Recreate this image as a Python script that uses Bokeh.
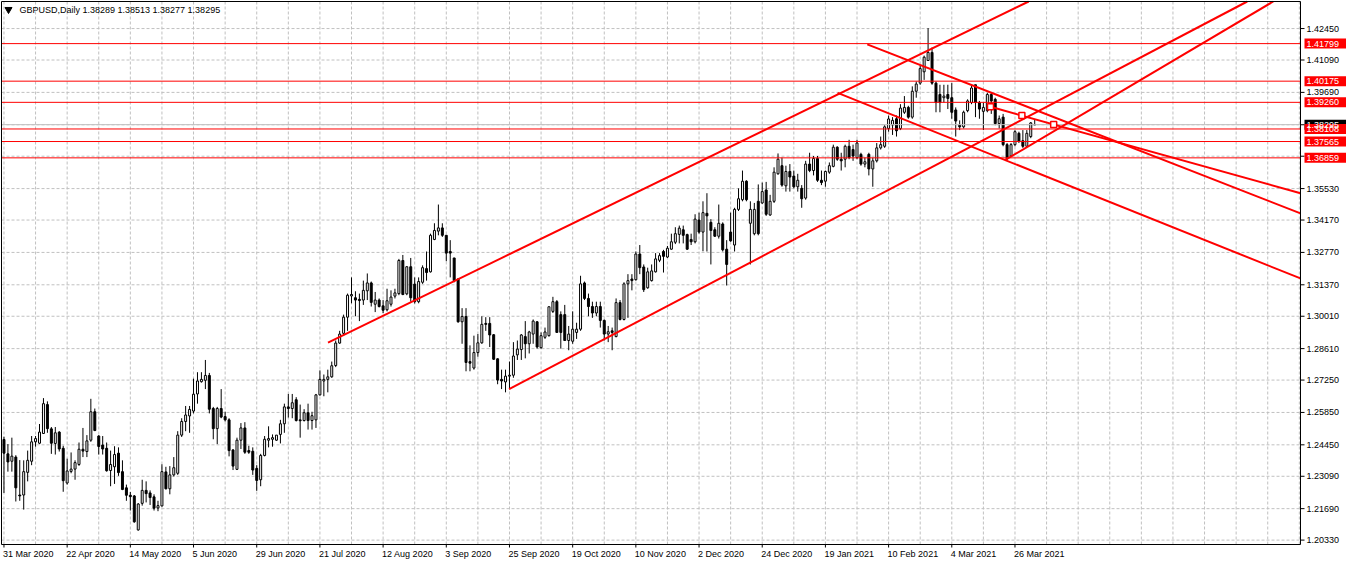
from bokeh.plotting import figure
from bokeh.models import ColumnDataSource
from bokeh.core.properties import value
from bokeh.embed import file_html
from bokeh.resources import INLINE

# ---------------- data (GBPUSD daily) ----------------
opens = [
1.2468, 1.2406, 1.2374, 1.2392, 1.2228, 1.2228, 1.2326, 1.2374, 1.2458, 1.2452,
1.2494, 1.2619, 1.2514, 1.2451, 1.2500, 1.2430, 1.2280, 1.2330, 1.2340, 1.2360,
1.2426, 1.2416, 1.2465, 1.2588, 1.2483, 1.2444, 1.2430, 1.2334, 1.2350, 1.2409,
1.2329, 1.2259, 1.2227, 1.2224, 1.2077, 1.2192, 1.2248, 1.2237, 1.2220, 1.2172,
1.2181, 1.2328, 1.2255, 1.2315, 1.2322, 1.2487, 1.2546, 1.2570, 1.2591, 1.2665,
1.2718, 1.2724, 1.2745, 1.2602, 1.2515, 1.2602, 1.2567, 1.2553, 1.2423, 1.2339,
1.2465, 1.2518, 1.2420, 1.2417, 1.2343, 1.2294, 1.2399, 1.2465, 1.2469, 1.2465,
1.2490, 1.2536, 1.2609, 1.2602, 1.2640, 1.2553, 1.2550, 1.2584, 1.2550, 1.2553,
1.2661, 1.2721, 1.2728, 1.2739, 1.2788, 1.2885, 1.2927, 1.2997, 1.3089, 1.3081,
1.3074, 1.3071, 1.3111, 1.3145, 1.3053, 1.3071, 1.3046, 1.3029, 1.3053, 1.3088,
1.3099, 1.3242, 1.3098, 1.3215, 1.3140, 1.3064, 1.3148, 1.3207, 1.3193, 1.3333,
1.3369, 1.3383, 1.3351, 1.3281, 1.3253, 1.3162, 1.2977, 1.3000, 1.2805, 1.2777,
1.2844, 1.2886, 1.2970, 1.2970, 1.2921, 1.2817, 1.2728, 1.2717, 1.2742, 1.2746,
1.2834, 1.2857, 1.2913, 1.2882, 1.2924, 1.2977, 1.2865, 1.2910, 1.2917, 1.3022,
1.3064, 1.3008, 1.3008, 1.2896, 1.2893, 1.2931, 1.2945, 1.3145, 1.3078, 1.3043,
1.3015, 1.3043, 1.2983, 1.2924, 1.2938, 1.2913, 1.3060, 1.2987, 1.3141, 1.3162,
1.3159, 1.3270, 1.3214, 1.3124, 1.3155, 1.3193, 1.3243, 1.3281, 1.3257, 1.3291,
1.3321, 1.3355, 1.3375, 1.3354, 1.3333, 1.3323, 1.3417, 1.3365, 1.3446, 1.3407,
1.3375, 1.3347, 1.3400, 1.3291, 1.3365, 1.3309, 1.3463, 1.3505, 1.3585, 1.3403,
1.3358, 1.3498, 1.3491, 1.3547, 1.3439, 1.3498, 1.3617, 1.3652, 1.3565, 1.3627,
1.3607, 1.3561, 1.3554, 1.3512, 1.3659, 1.3631, 1.3683, 1.3589, 1.3585, 1.3624,
1.3649, 1.3732, 1.3680, 1.3680, 1.3736, 1.3722, 1.3687, 1.3701, 1.3659, 1.3701,
1.3638, 1.3673, 1.3729, 1.3736, 1.3813, 1.3828, 1.3855, 1.3813, 1.3883, 1.3904,
1.3862, 1.3974, 1.4009, 1.4058, 1.4107, 1.4142, 1.4009, 1.3960, 1.3946, 1.3960,
1.3946, 1.3893, 1.3827, 1.3820, 1.3890, 1.3925, 1.4002, 1.3925, 1.3887, 1.3890,
1.3960, 1.3939, 1.3834, 1.3862, 1.3743, 1.3694, 1.3743, 1.3792, 1.3760, 1.3736,
1.3778, 1.38289]

highs = [
1.2480, 1.2448, 1.2476, 1.2400, 1.2379, 1.2378, 1.2420, 1.2483, 1.2483, 1.2535,
1.2647, 1.2633, 1.2522, 1.2522, 1.2504, 1.2441, 1.2385, 1.2412, 1.2378, 1.2455,
1.2518, 1.2487, 1.2644, 1.2602, 1.2487, 1.2483, 1.2455, 1.2420, 1.2439, 1.2434,
1.2378, 1.2273, 1.2241, 1.2228, 1.2193, 1.2294, 1.2287, 1.2248, 1.2231, 1.2203,
1.2361, 1.2350, 1.2353, 1.2392, 1.2504, 1.2560, 1.2613, 1.2613, 1.2731, 1.2759,
1.2759, 1.2812, 1.2756, 1.2609, 1.2609, 1.2686, 1.2588, 1.2560, 1.2426, 1.2476,
1.2539, 1.2543, 1.2441, 1.2434, 1.2357, 1.2406, 1.2483, 1.2525, 1.2490, 1.2487,
1.2553, 1.2623, 1.2665, 1.2665, 1.2651, 1.2619, 1.2599, 1.2623, 1.2588, 1.2665,
1.2767, 1.2749, 1.2770, 1.2805, 1.2896, 1.2938, 1.3008, 1.3099, 1.3169, 1.3109,
1.3099, 1.3155, 1.3186, 1.3151, 1.3106, 1.3078, 1.3071, 1.3120, 1.3113, 1.3120,
1.3249, 1.3266, 1.3218, 1.3253, 1.3169, 1.3169, 1.3221, 1.3281, 1.3358, 1.3403,
1.3484, 1.3403, 1.3351, 1.3330, 1.3253, 1.3165, 1.3036, 1.3036, 1.2875, 1.2917,
1.2924, 1.3001, 1.2997, 1.2997, 1.2924, 1.2819, 1.2770, 1.2770, 1.2805, 1.2889,
1.2896, 1.2924, 1.2980, 1.2938, 1.2987, 1.2980, 1.2931, 1.2952, 1.3043, 1.3085,
1.3071, 1.3022, 1.3050, 1.2959, 1.3022, 1.2973, 1.3176, 1.3151, 1.3099, 1.3064,
1.3064, 1.3064, 1.2987, 1.2959, 1.2952, 1.3078, 1.3071, 1.3148, 1.3183, 1.3183,
1.3281, 1.3309, 1.3225, 1.3211, 1.3225, 1.3274, 1.3274, 1.3288, 1.3305, 1.3358,
1.3386, 1.3393, 1.3393, 1.3358, 1.3358, 1.3442, 1.3449, 1.3498, 1.3533, 1.3421,
1.3386, 1.3484, 1.3407, 1.3330, 1.3449, 1.3470, 1.3554, 1.3631, 1.3589, 1.3498,
1.3491, 1.3571, 1.3579, 1.3582, 1.3526, 1.3645, 1.3705, 1.3687, 1.3652, 1.3659,
1.3631, 1.3617, 1.3568, 1.3673, 1.3708, 1.3694, 1.3694, 1.3631, 1.3631, 1.3666,
1.3743, 1.3736, 1.3708, 1.3743, 1.3764, 1.3743, 1.3764, 1.3708, 1.3687, 1.3708,
1.3687, 1.3750, 1.3778, 1.3827, 1.3869, 1.3862, 1.3869, 1.3918, 1.3953, 1.3911,
1.3995, 1.4016, 1.4086, 1.4128, 1.4247, 1.4163, 1.4016, 1.4002, 1.4002, 1.4002,
1.4009, 1.3904, 1.3848, 1.3890, 1.3939, 1.4002, 1.4002, 1.3932, 1.3925, 1.3967,
1.3967, 1.3946, 1.3869, 1.3876, 1.3750, 1.3750, 1.3806, 1.3799, 1.3806, 1.3806,
1.3841, 1.38513]

lows = [
1.2237, 1.2329, 1.2329, 1.2200, 1.2203, 1.2165, 1.2287, 1.2357, 1.2437, 1.2448,
1.2493, 1.2497, 1.2406, 1.2403, 1.2416, 1.2242, 1.2273, 1.2322, 1.2294, 1.2354,
1.2392, 1.2392, 1.2458, 1.2504, 1.2403, 1.2403, 1.2329, 1.2266, 1.2276, 1.2311,
1.2249, 1.2203, 1.2161, 1.2108, 1.2074, 1.2182, 1.2196, 1.2185, 1.2161, 1.2158,
1.2178, 1.2252, 1.2231, 1.2308, 1.2315, 1.2479, 1.2504, 1.2497, 1.2581, 1.2623,
1.2714, 1.2686, 1.2581, 1.2469, 1.2448, 1.2560, 1.2546, 1.2395, 1.2336, 1.2336,
1.2427, 1.2406, 1.2406, 1.2315, 1.2246, 1.2266, 1.2395, 1.2434, 1.2437, 1.2462,
1.2451, 1.2497, 1.2563, 1.2560, 1.2546, 1.2476, 1.2546, 1.2511, 1.2511, 1.2518,
1.2658, 1.2655, 1.2672, 1.2735, 1.2781, 1.2882, 1.2917, 1.2938, 1.3057, 1.3001,
1.2980, 1.3050, 1.3071, 1.3043, 1.3019, 1.3039, 1.3015, 1.3022, 1.3043, 1.3078,
1.3092, 1.3092, 1.3092, 1.3064, 1.3056, 1.3057, 1.3141, 1.3155, 1.3190, 1.3330,
1.3351, 1.3344, 1.3239, 1.3169, 1.3148, 1.2973, 1.2882, 1.2763, 1.2763, 1.2770,
1.2826, 1.2882, 1.2938, 1.2868, 1.2812, 1.2707, 1.2686, 1.2672, 1.2686, 1.2735,
1.2812, 1.2812, 1.2819, 1.2840, 1.2882, 1.2861, 1.2861, 1.2903, 1.2913, 1.3015,
1.2931, 1.2861, 1.2896, 1.2854, 1.2882, 1.2903, 1.2938, 1.3071, 1.3001, 1.2994,
1.3001, 1.2952, 1.2896, 1.2889, 1.2854, 1.2910, 1.2983, 1.2983, 1.2994, 1.3113,
1.3155, 1.3183, 1.3106, 1.3120, 1.3151, 1.3190, 1.3235, 1.3190, 1.3253, 1.3288,
1.3313, 1.3316, 1.3316, 1.3288, 1.3309, 1.3316, 1.3358, 1.3282, 1.3281, 1.3225,
1.3344, 1.3337, 1.3281, 1.3134, 1.3323, 1.3281, 1.3456, 1.3498, 1.3498, 1.3225,
1.3351, 1.3351, 1.3487, 1.3435, 1.3435, 1.3491, 1.3613, 1.3561, 1.3540, 1.3540,
1.3554, 1.3540, 1.3470, 1.3505, 1.3624, 1.3610, 1.3582, 1.3568, 1.3561, 1.3617,
1.3645, 1.3673, 1.3631, 1.3645, 1.3680, 1.3673, 1.3680, 1.3652, 1.3645, 1.3610,
1.3561, 1.3666, 1.3722, 1.3729, 1.3799, 1.3785, 1.3778, 1.3806, 1.3876, 1.3855,
1.3855, 1.3946, 1.4002, 1.4023, 1.4107, 1.4002, 1.3883, 1.3883, 1.3925, 1.3897,
1.3855, 1.3778, 1.3806, 1.3813, 1.3883, 1.3918, 1.3862, 1.3855, 1.3806, 1.3883,
1.3876, 1.3827, 1.3813, 1.3736, 1.3677, 1.3691, 1.3736, 1.3750, 1.3729, 1.3733,
1.3771, 1.38277]

closes = [
1.2409, 1.2371, 1.2396, 1.2259, 1.2224, 1.2329, 1.2378, 1.2458, 1.2472, 1.2500,
1.2623, 1.2515, 1.2452, 1.2497, 1.2427, 1.2290, 1.2332, 1.2340, 1.2368, 1.2426,
1.2418, 1.2462, 1.2588, 1.2507, 1.2438, 1.2427, 1.2333, 1.2360, 1.2403, 1.2325,
1.2252, 1.2227, 1.2221, 1.2112, 1.2189, 1.2248, 1.2234, 1.2217, 1.2171, 1.2182,
1.2329, 1.2255, 1.2315, 1.2346, 1.2487, 1.2546, 1.2574, 1.2598, 1.2664, 1.2721,
1.2728, 1.2745, 1.2599, 1.2515, 1.2602, 1.2565, 1.2553, 1.2420, 1.2353, 1.2465,
1.2518, 1.2413, 1.2413, 1.2336, 1.2291, 1.2399, 1.2469, 1.2472, 1.2476, 1.2487,
1.2536, 1.2609, 1.2602, 1.2627, 1.2550, 1.2549, 1.2584, 1.2550, 1.2571, 1.2661,
1.2728, 1.2728, 1.2739, 1.2787, 1.2885, 1.2924, 1.2997, 1.3092, 1.3095, 1.3071,
1.3069, 1.3113, 1.3145, 1.3061, 1.3071, 1.3043, 1.3027, 1.3068, 1.3084, 1.3102,
1.3242, 1.3095, 1.3215, 1.3081, 1.3064, 1.3151, 1.3211, 1.3190, 1.3351, 1.3372,
1.3383, 1.3351, 1.3274, 1.3274, 1.3155, 1.2977, 1.3000, 1.2801, 1.2798, 1.2844,
1.2886, 1.2966, 1.2966, 1.2920, 1.2815, 1.2725, 1.2721, 1.2742, 1.2746, 1.2829,
1.2859, 1.2920, 1.2882, 1.2933, 1.2980, 1.2868, 1.2917, 1.2933, 1.3042, 1.3064,
1.2931, 1.2931, 1.2896, 1.2924, 1.2945, 1.2945, 1.3141, 1.3078, 1.3043, 1.3015,
1.3043, 1.2983, 1.2924, 1.2934, 1.2931, 1.3060, 1.2987, 1.3141, 1.3155, 1.3155,
1.3270, 1.3211, 1.3116, 1.3193, 1.3197, 1.3249, 1.3263, 1.3260, 1.3295, 1.3323,
1.3358, 1.3382, 1.3351, 1.3291, 1.3323, 1.3421, 1.3365, 1.3449, 1.3435, 1.3372,
1.3347, 1.3403, 1.3288, 1.3225, 1.3327, 1.3463, 1.3509, 1.3585, 1.3505, 1.3463,
1.3463, 1.3358, 1.3540, 1.3442, 1.3498, 1.3624, 1.3680, 1.3568, 1.3627, 1.3603,
1.3561, 1.3589, 1.3509, 1.3659, 1.3631, 1.3683, 1.3589, 1.3579, 1.3627, 1.3652,
1.3732, 1.3680, 1.3673, 1.3736, 1.3687, 1.3694, 1.3750, 1.3659, 1.3669, 1.3638,
1.3673, 1.3729, 1.3743, 1.3820, 1.3854, 1.3848, 1.3803, 1.3901, 1.3904, 1.3862,
1.3974, 1.4005, 1.4072, 1.4121, 1.4142, 1.4009, 1.3925, 1.3925, 1.3953, 1.3943,
1.3883, 1.3845, 1.3820, 1.3883, 1.3932, 1.3988, 1.3925, 1.3897, 1.3904, 1.3960,
1.3932, 1.3834, 1.3855, 1.3743, 1.3683, 1.3743, 1.3799, 1.3757, 1.3736, 1.3792,
1.3837, 1.38295]

date_labels = ["31 Mar 2020", "22 Apr 2020", "14 May 2020", "5 Jun 2020", "29 Jun 2020",
               "21 Jul 2020", "12 Aug 2020", "3 Sep 2020", "25 Sep 2020", "19 Oct 2020",
               "10 Nov 2020", "2 Dec 2020", "24 Dec 2020", "19 Jan 2021", "10 Feb 2021",
               "4 Mar 2021", "26 Mar 2021"]
date_bars = [0, 16, 32, 48, 64, 80, 96, 112, 128, 144, 160, 176, 192, 208, 224, 240, 256]

price_ticks = [1.20330, 1.21690, 1.23090, 1.24450, 1.25850, 1.27250, 1.28610, 1.30010,
               1.31370, 1.32770, 1.34170, 1.35530, 1.36930, 1.38290, 1.39690, 1.41090, 1.42450]

level_prices = [1.41799, 1.40175, 1.39260, 1.38108, 1.37565, 1.36859]
bid_price = 1.38295
header_text = "GBPUSD,Daily  1.38289 1.38513 1.38277 1.38295"

# trend lines: start (bar, price) and a second point (bar, price)
trend_x0 = [82.05, 127.9, 253.55, 218.6, 249.8, 211.1]
trend_p0 = [1.28873, 1.26857, 1.36769, 1.41767, 1.39066, 1.39667]
trend_x1 = [258.4, 313.4, 320.4, 328.3, 328.3, 328.3]
trend_p1 = [1.43531, 1.43493, 1.43518, 1.34459, 1.35328, 1.31645]

# anchor squares of the selected trend line
anchor_bars = [249.8, 257.75, 265.8]
anchor_prices = [1.39066, 1.38688, 1.38304]

assert len(opens) == len(highs) == len(lows) == len(closes) == 262

# ---------------- layout geometry ----------------
W, H = 1346, 564
CH_L, CH_R, CH_T, CH_B = 1, 1300, 1, 544          # chart box in canvas pixels
X0c, X1c = -0.625, 328.3                           # bars shown in the chart box
Y0c, Y1c = 1.2014, 1.4362                          # prices shown in the chart box
kx = (CH_R - CH_L) / (X1c - X0c)                   # px per bar
ky = (CH_B - CH_T) / (Y1c - Y0c)                   # px per price unit
xs, xe = X0c - CH_L / kx, X1c + (W - CH_R) / kx
ys, ye = Y0c - (H - CH_B) / ky, Y1c + CH_T / ky

def dx(px):
    return px / kx

def dy(px):
    return px / ky

FONT = "Liberation Sans"

p = figure(width=W, height=H, x_range=(xs, xe), y_range=(ys, ye),
           output_backend="svg", toolbar_location=None,
           x_axis_location=None, y_axis_location=None,
           min_border=0, min_border_left=0, min_border_right=0,
           min_border_top=0, min_border_bottom=0)
p.background_fill_color = "white"
p.border_fill_color = "white"
p.outline_line_color = None
p.grid.visible = False

GRID = dict(line_color="#c0c0c0", line_width=1, line_dash="3 2")

# grid inside the chart box
vgrid = list(range(0, 329, 8))
p.segment(x0=vgrid, y0=[Y0c] * len(vgrid), x1=vgrid, y1=[Y1c] * len(vgrid), **GRID)
p.segment(x0=[X0c] * len(price_ticks), y0=price_ticks, x1=[X1c] * len(price_ticks),
          y1=price_ticks, **GRID)

# candles
idx = list(range(len(opens)))
tops = [max(o, c) for o, c in zip(opens, closes)]
bots = [min(o, c) for o, c in zip(opens, closes)]
fills = ["white" if c >= o else "black" for o, c in zip(opens, closes)]
src = ColumnDataSource(dict(i=idx, o=opens, h=highs, l=lows, c=closes,
                            top=tops, bot=bots, fill=fills))
p.segment(x0="i", y0="l", x1="i", y1="h", line_color="black", line_width=1, source=src)
p.vbar(x="i", width=0.5, top="top", bottom="bot", fill_color="fill",
       line_color="black", line_width=1, source=src)

# bid line and horizontal levels
p.segment(x0=[X0c], y0=[bid_price], x1=[X1c], y1=[bid_price], line_color="#c0c0c0", line_width=1)
p.segment(x0=[X0c] * len(level_prices), y0=level_prices, x1=[X1c] * len(level_prices),
          y1=level_prices, line_color="#ff0000", line_width=1)

# trend lines (rays, cut at the chart box)
for xa, pa, xb, pb in zip(trend_x0, trend_p0, trend_x1, trend_p1):
    slope = (pb - pa) / (xb - xa)
    x_end = X1c
    y_end = pa + slope * (x_end - xa)
    if y_end > Y1c:
        x_end = xa + (Y1c - pa) / slope
        y_end = Y1c
    p.line([xa, x_end], [pa, y_end], line_color="#ff0000", line_width=2)
p.scatter(anchor_bars, anchor_prices, marker="square", size=6,
          fill_color="white", line_color="#ff0000", line_width=1.5)

# chart frame (axis lines)
p.segment(x0=[X0c, X0c, X1c, X0c], y0=[Y0c, Y1c, Y0c, Y0c],
          x1=[X0c, X1c, X1c, X1c], y1=[Y1c, Y1c, Y1c, Y0c],
          line_color="black", line_width=1)

# right price scale: ticks and labels
p.segment(x0=[X1c] * len(price_ticks), y0=price_ticks,
          x1=[X1c + dx(4)] * len(price_ticks), y1=price_ticks, line_color="black")
p.text(x=[X1c + dx(6)] * len(price_ticks), y=price_ticks,
       text=[f"{v:.5f}" for v in price_ticks], text_font=value(FONT),
       text_font_size="9px", text_color="black", text_align="left", text_baseline="middle")

# current price (black) and level labels (red)
lab_prices = [bid_price] + level_prices
lab_colors = ["black"] + ["#ff0000"] * len(level_prices)
p.quad(left=[X1c + dx(4)] * len(lab_prices), right=[xe] * len(lab_prices),
       top=[v + dy(5) for v in lab_prices], bottom=[v - dy(5) for v in lab_prices],
       fill_color=lab_colors, line_color=None)
p.text(x=[X1c + dx(6)] * len(lab_prices), y=lab_prices,
       text=[f"{v:.5f}" for v in lab_prices], text_font=value(FONT),
       text_font_size="9px", text_color="white", text_align="left", text_baseline="middle")

# time scale: ticks and left-aligned date labels
p.segment(x0=date_bars, y0=[Y0c] * len(date_bars), x1=date_bars,
          y1=[Y0c - dy(3)] * len(date_bars), line_color="black")
p.text(x=[b - dx(1) for b in date_bars], y=[Y0c - dy(4)] * len(date_bars), text=date_labels,
       text_font=value(FONT), text_font_size="9px", text_color="black",
       text_align="left", text_baseline="top")

# header
p.scatter([X0c + dx(7)], [Y1c - dy(8)], marker="inverted_triangle", size=7,
          fill_color="black", line_color="black")
p.text(x=[X0c + dx(18)], y=[Y1c - dy(8)], text=[header_text], text_font=value(FONT),
       text_font_size="9px", text_color="black", text_align="left", text_baseline="middle")

open("out.html", "w").write(file_html(p, INLINE))
